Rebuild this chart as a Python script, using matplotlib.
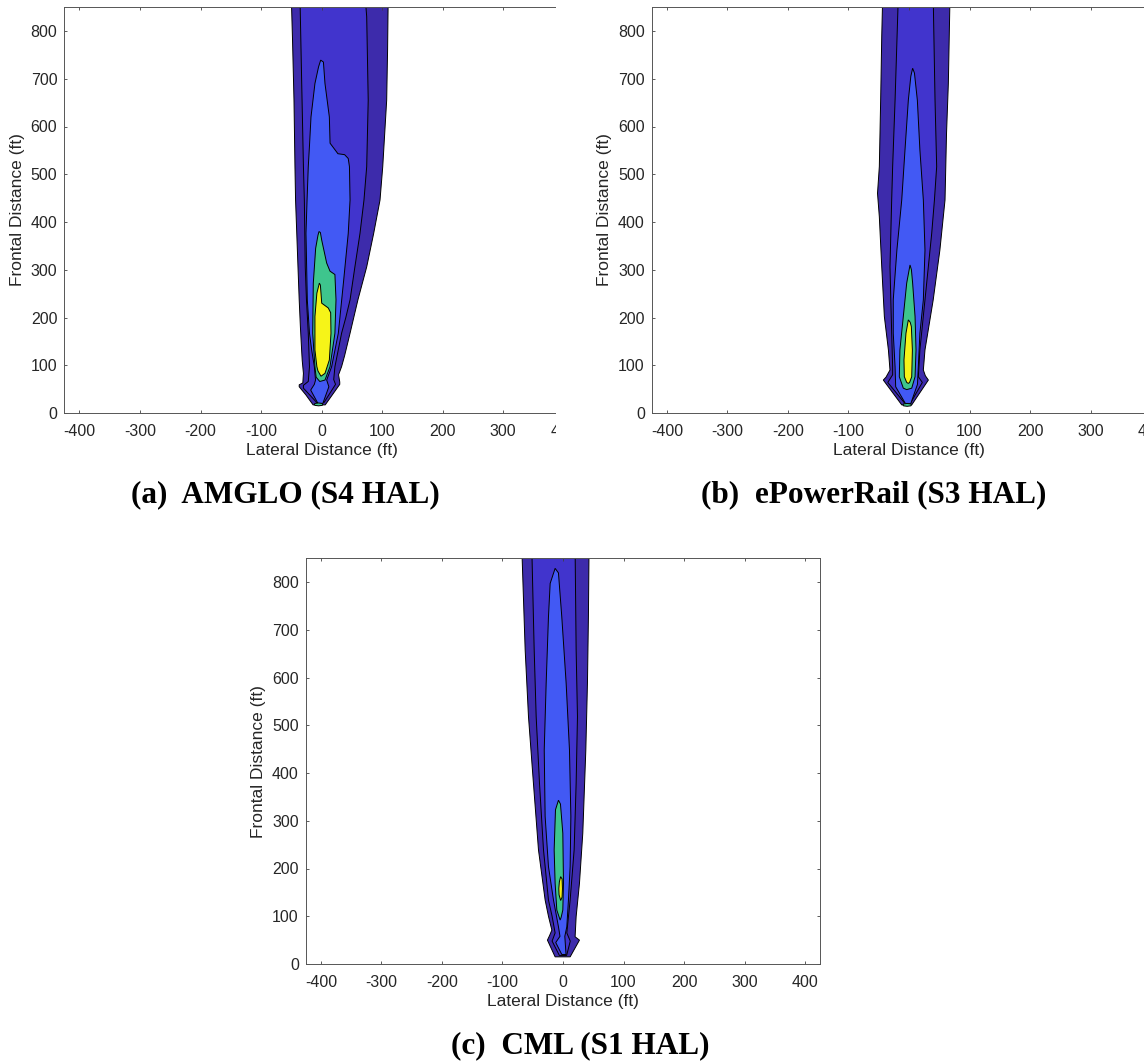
import matplotlib
matplotlib.use('Agg')
import matplotlib.pyplot as plt
from matplotlib.patches import Rectangle

# contour band outlines (ft): left side bottom->top, then right side top->bottom
# (a) AMGLO
a1_x = [-14, -26, -37, -37, -31, -30, -32, -33, -35, -37, -39, -41, -43, -44, -45.6, -48, -50,
        110, 109, 107.5, 101, 96.5, 86, 74.5, 60, 47, 38, 33, 28, 30, 30, 6]
a1_y = [17, 38, 55, 59, 63, 83, 110, 132, 180, 237, 306, 376, 446, 516, 655, 780, 870,
        870, 760, 655, 516, 446, 376, 306, 237, 167, 120, 97, 80, 65, 60, 17]
a2_x = [-8, -30, -30, -22, -20, -22, -25, -27, -28.5, -30, -33, -35.7,
        72, 74.5, 77, 74.5, 70, 63.4, 55, 47, 40, 33, 22, 20, 23, 4]
a2_y = [22, 52, 58, 66, 97, 167, 237, 306, 446, 516, 700, 870,
        870, 830, 655, 516, 446, 376, 306, 237, 200, 167, 97, 70, 60, 22]
a3_x = [-6, -18, -12, -10, -12, -16.4, -20, -23.6, -25.8, -24, -22, -20, -17.5, -11, -5, -1.5,
        3, 5.6, 12.8, 14, 27, 38, 44, 46, 47, 44, 36, 27.6, 16.6, 8.4, 12, 2]
a3_y = [20, 48, 60, 69, 97, 132, 167, 237, 376, 446, 516, 560, 620, 690, 725, 739,
        735, 690, 620, 565, 543, 541, 533, 516, 446, 376, 272, 167, 97, 69, 55, 20]
a4_x = [-3, -9, -11, -14.7, -13.7, -9.8, -6, -4.3,
        -2, 0.2, 8.4, 13.9, 22, 23.8, 22, 13.9, 5.6]
a4_y = [66, 75, 97, 167, 272, 345, 372, 380,
        378, 362, 314, 297, 290, 237, 167, 97, 69]
a5_x = [-1, -6, -7.8, -11, -11, -7.8, -3.7,
        -2, 0.2, 11, 15, 15.5, 12.8, 5.6]
a5_y = [77, 88, 97, 132, 202, 251, 272,
        268, 230, 220, 210, 167, 111, 83]
a_base_x = [-12, -11, -5, 1, 2, 1, -5, -11]
a_base_y = [18, 20, 21, 20, 18, 16, 15, 16]

# (b) ePowerRail
b1_x = [-12, -42.4, -38, -31.4, -34, -40.7, -45, -49, -52, -49, -46.8, -45, -43.5,
        67.7, 65, 62, 59.5, 51, 40, 26.4, 23.7, 27, 32, 4.5]
b1_y = [17, 69, 75, 90, 132, 202, 306, 411, 460, 516, 655, 790, 870,
        870, 690, 586, 446, 341, 237, 132, 90, 78, 69, 17]
b2_x = [-8, -35, -27, -27, -28.6, -31.4, -28.6, -27, -23, -17.7,
        40, 43, 45.7, 42, 37.5, 26.4, 18, 15.4, 22, 3]
b2_y = [22, 64, 80, 97, 167, 306, 446, 516, 655, 870,
        870, 655, 516, 446, 376, 237, 132, 76, 64, 22]
b3_x = [-6, -22, -23, -26, -26, -20, -12, -6.6, -1.1, 3, 6,
        9, 13.8, 18, 23.7, 26.4, 23.7, 18, 15.4, 14, 3]
b3_y = [20, 55, 97, 167, 237, 341, 446, 551, 655, 705, 722,
        712, 655, 551, 446, 341, 237, 167, 97, 60, 20]
b4_x = [-3.8, -9.4, -16, -15, -9.4, -3.8, 1.7,
        4, 6, 10, 11.6, 10, 4.5]
b4_y = [49, 52, 76, 132, 202, 272, 310,
        300, 272, 202, 132, 76, 52]
b5_x = [-1.1, -3.8, -7.7, -8.3, -5, -1.1,
        2, 3.9, 5.6, 4.5, 1]
b5_y = [62, 64, 76, 111, 167, 195,
        190, 181, 132, 76, 64]
b_base_x = [-10, -9, -3, 3, 4, 3, -3, -9]
b_base_y = [17, 19, 20, 19, 17, 15, 14, 15]

# (c) CML
c1_x = [-13, -25.7, -22, -18.4, -24, -29.5, -40.5, -48.8, -57, -62.5, -68,
        43, 42, 40.4, 37.7, 32.7, 27.2, 21.7, 20, 27.2, 11.8]
c1_y = [15, 50, 60, 71, 100, 134, 239, 378, 518, 658, 870,
        870, 727, 588, 448, 274, 169, 99, 57, 50, 15]
c2_x = [-6, -18, -13, -18, -24, -32.2, -38.8, -44.3, -47.6, -51.5,
        20, 21.7, 23.9, 21.7, 18.4, 11.8, 6.3, 12, 6]
c2_y = [18, 48, 65, 100, 134, 239, 378, 518, 658, 870,
        870, 658, 518, 378, 239, 134, 65, 48, 18]
c3_x = [-2, -12, -5, -7.5, -15.7, -24, -29.5, -31, -27.8, -24, -21.2, -13,
        -7.5, -2, 5.2, 10.7, 13, 11.8, 9, 6.3, 3, 5]
c3_y = [20, 45, 58, 78, 134, 204, 309, 448, 588, 727, 797, 828.6,
        819, 727, 588, 448, 309, 204, 134, 78, 58, 20]
c4_x = [-4.7, -10.2, -13, -14.6, -12.4, -7.5,
        -4.2, -0.3, 0.8, -0.3, -3]
c4_y = [92, 113, 169, 239, 323, 343,
        335, 274, 169, 113, 98]
c5_x = [-3.9, -6.5, -6.9, -6, -3.9,
        -1.5, -0.9, -1.5]
c5_y = [133, 145, 158, 172, 183,
        178, 158, 140]

captions = ['(a)  AMGLO (S4 HAL)', '(b)  ePowerRail (S3 HAL)', '(c)  CML (S1 HAL)']
band_colors = ['#3D2BAB', '#4134CD', '#4259F4', '#3EC58D', '#F6F418']
x_ticks = [-400, -300, -200, -100, 0, 100, 200, 300, 400]
y_ticks = [0, 100, 200, 300, 400, 500, 600, 700, 800]

plt.rcParams['font.family'] = ['Liberation Sans', 'DejaVu Sans']
plt.rcParams['axes.unicode_minus'] = False

W, H = 1144, 1061
fig = plt.figure(figsize=(W / 100, H / 100), dpi=100)


def make_ax(left_px, bottom_px):
    w = 850 * 0.6054
    h = 850 * 0.4775
    ax = fig.add_axes([left_px / W, 1 - bottom_px / H, w / W, h / H])
    ax.set_xlim(-425, 425)
    ax.set_ylim(0, 850)
    ax.set_xticks(x_ticks)
    ax.set_yticks(y_ticks)
    ax.tick_params(direction='in', length=2.5, width=0.6, colors='#404040',
                   labelcolor='#262626', labelsize=11.5, top=True, right=True)
    ax.tick_params(axis='x', pad=8)
    ax.tick_params(axis='y', pad=5)
    for s in ax.spines.values():
        s.set_color('#555555')
        s.set_linewidth(0.7)
    ax.set_xlabel('Lateral Distance (ft)', fontsize=12.5, color='#262626', labelpad=3)
    ax.set_ylabel('Frontal Distance (ft)', fontsize=12.5, color='#262626', labelpad=4)
    return ax


def draw_bands(ax, bands, base=None):
    for (xs, ys), col in zip(bands, band_colors):
        ax.fill(xs, ys, facecolor=col, edgecolor='black', linewidth=0.7)
    if base is not None:
        ax.fill(base[0], base[1], facecolor=band_colors[3], edgecolor='black', linewidth=0.7)


ax_a = make_ax(64.3, 413)
draw_bands(ax_a, [(a1_x, a1_y), (a2_x, a2_y), (a3_x, a3_y), (a4_x, a4_y), (a5_x, a5_y)],
           (a_base_x, a_base_y))
ax_b = make_ax(651.7, 413)
draw_bands(ax_b, [(b1_x, b1_y), (b2_x, b2_y), (b3_x, b3_y), (b4_x, b4_y), (b5_x, b5_y)],
           (b_base_x, b_base_y))
ax_c = make_ax(305.7, 964)
draw_bands(ax_c, [(c1_x, c1_y), (c2_x, c2_y), (c3_x, c3_y), (c4_x, c4_y), (c5_x, c5_y)])

# panel (a) is cut off on the right in the source
fig.patches.append(Rectangle((556 / W, 1 - 475 / H), 36 / W, 475 / H,
                             transform=fig.transFigure, facecolor='white',
                             edgecolor='none', zorder=10))

cap_font = dict(fontsize=22.5, fontweight='bold', family='Liberation Serif',
                ha='center', va='baseline', color='black')
fig.text(285 / W, 1 - 502 / H, captions[0], **cap_font)
fig.text(874 / W, 1 - 502 / H, captions[1], **cap_font)
fig.text(580 / W, 1 - 1053 / H, captions[2], **cap_font)

fig.savefig('out.png', dpi=100)
